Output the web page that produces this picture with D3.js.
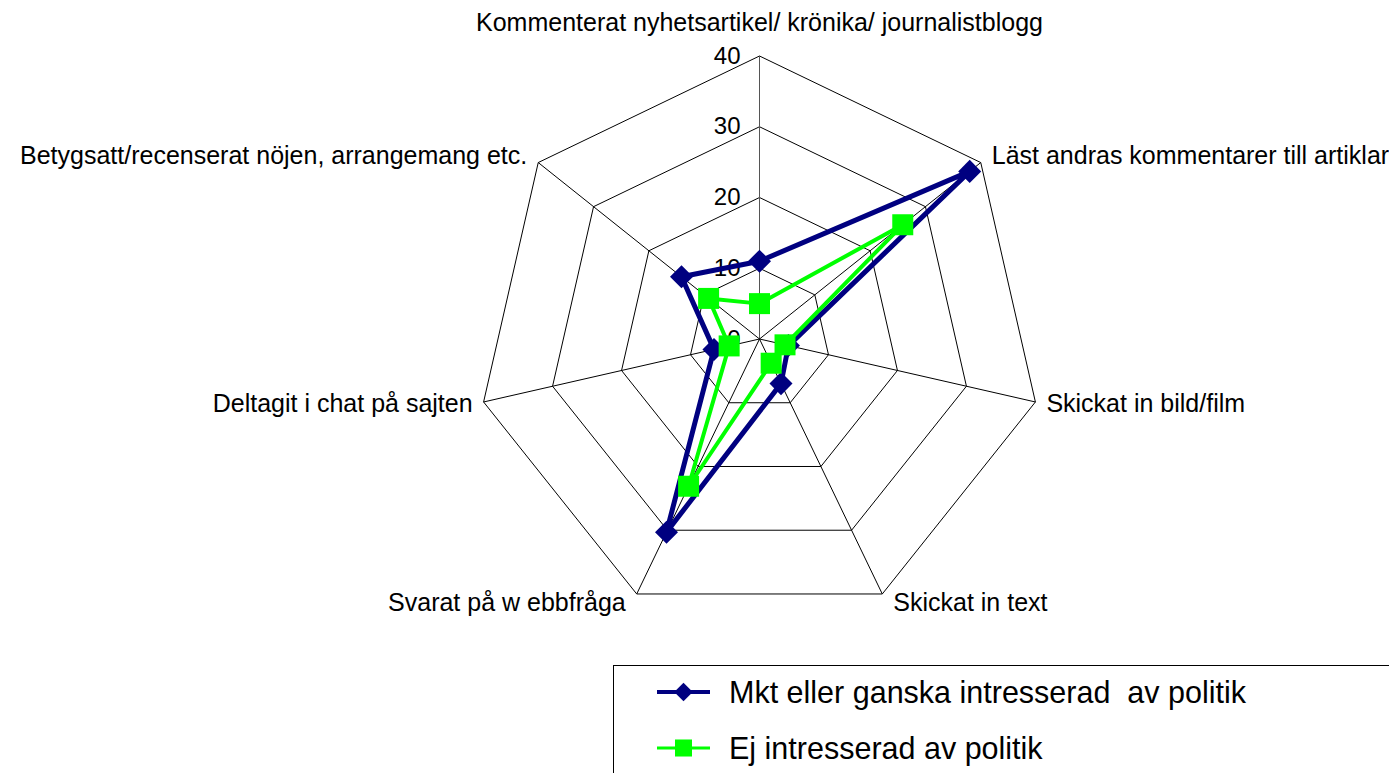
<!DOCTYPE html>
<html>
<head>
<meta charset="utf-8">
<script src="https://cdn.jsdelivr.net/npm/d3@7"></script>
<style>
  body { margin: 0; background: #fff; }
  svg { display: block; font-family: "Liberation Sans", Arial, sans-serif; }
  text { white-space: pre; }
</style>
</head>
<body>
<div id="chart"></div>
<script>
const categories = [
  'Kommenterat nyhetsartikel/ krönika/ journalistblogg',
  'Läst andras kommentarer till artiklar',
  'Skickat in bild/film',
  'Skickat in text',
  'Svarat på w ebbfråga',
  'Deltagit i chat på sajten',
  'Betygsatt/recenserat nöjen, arrangemang etc.'
];
const seriesNames = ['Mkt eller ganska intresserad  av politik', 'Ej intresserad av politik'];
const mktValues = [11, 38, 4.2, 7, 30.3, 6.6, 14.1];
const ejValues = [5, 25.9, 3.7, 3.8, 23.1, 4.4, 9.2];
const tickValues = [0, 10, 20, 30, 40];

const width = 1389, height = 773;
const cx = 759.5, cy = 339;

const svg = d3.select('#chart').append('svg')
  .attr('width', width).attr('height', height);

const r = d3.scaleLinear().domain([0, 40]).range([0, 283]);
const angle = d3.scaleLinear().domain([0, categories.length]).range([0, 2 * Math.PI]);

const g = svg.append('g').attr('transform', `translate(${cx}, ${cy})`);

const px = (i, v) => r(v) * Math.sin(angle(i));
const py = (i, v) => -r(v) * Math.cos(angle(i));

// grid heptagons
const gridLine = d3.lineRadial()
  .angle((d, i) => angle(i)).radius(d => r(d))
  .curve(d3.curveLinearClosed);

g.append('g').selectAll('path').data(tickValues.slice(1)).join('path')
  .attr('d', t => gridLine(categories.map(() => t)))
  .attr('fill', 'none').attr('stroke', '#000').attr('stroke-width', 1);

// spokes
g.append('g').selectAll('line').data(categories).join('line')
  .attr('x1', 0).attr('y1', 0)
  .attr('x2', (d, i) => px(i, 40)).attr('y2', (d, i) => py(i, 40))
  .attr('stroke', (d, i) => i === 0 ? '#555' : '#000').attr('stroke-width', 1);

// tick labels
g.append('g').selectAll('text').data(tickValues).join('text')
  .attr('x', -19).attr('y', t => -r(t) + 7.5)
  .attr('text-anchor', 'end').attr('font-size', 24).attr('fill', '#000')
  .text(t => t);

// category labels
g.append('g').selectAll('text').data(categories).join('text')
  .attr('font-size', 25).attr('fill', '#000')
  .attr('text-anchor', (d, i) => i === 0 ? 'middle' : (Math.sin(angle(i)) > 0 ? 'start' : 'end'))
  .attr('x', (d, i) => {
    if (i === 0) return 0;
    const s = Math.sin(angle(i));
    return px(i, 40) + (s > 0 ? 11 : -11);
  })
  .attr('y', (d, i) => {
    if (i === 0) return py(i, 40) - 25;
    return py(i, 40) + 8 - 10 * Math.cos(angle(i));
  })
  .text(d => d);

// series
const series = [
  { name: seriesNames[0], values: mktValues, color: '#000080', width: 5, marker: 'diamond' },
  { name: seriesNames[1], values: ejValues, color: '#00ff00', width: 4, marker: 'square' }
];

const seriesLine = d3.lineRadial()
  .angle((d, i) => angle(i)).radius(d => r(d))
  .curve(d3.curveLinearClosed);

const markerPath = (m, big) => m === 'diamond'
  ? d3.symbol(d3.symbolSquare, big ? 265 : 170)()
  : d3.symbol(d3.symbolSquare, big ? 441 : 290)();

series.forEach(s => {
  const sg = g.append('g');
  sg.append('path').attr('d', seriesLine(s.values))
    .attr('fill', 'none').attr('stroke', s.color)
    .attr('stroke-width', s.width).attr('stroke-linejoin', 'round');
  sg.selectAll('path.marker').data(s.values).join('path')
    .attr('class', 'marker')
    .attr('d', markerPath(s.marker, true))
    .attr('fill', s.color)
    .attr('transform', (d, i) => `translate(${px(i, d)}, ${py(i, d)})${s.marker === 'diamond' ? ' rotate(45)' : ''}`);
});

// legend
const legend = svg.append('g');
legend.append('rect')
  .attr('x', 613.5).attr('y', 665.5).attr('width', 900).attr('height', 200)
  .attr('fill', '#fff').attr('stroke', '#000').attr('stroke-width', 1);

const legendY = d3.scalePoint().domain(seriesNames).range([692, 748]);

const items = legend.selectAll('g.item').data(series).join('g')
  .attr('class', 'item')
  .attr('transform', d => `translate(0, ${legendY(d.name)})`);

items.append('line')
  .attr('x1', 657).attr('x2', 710).attr('y1', 0).attr('y2', 0)
  .attr('stroke', d => d.color).attr('stroke-width', d => d.width - 1);
items.append('path')
  .attr('d', d => markerPath(d.marker, false))
  .attr('fill', d => d.color)
  .attr('transform', d => `translate(683.5, 0)${d.marker === 'diamond' ? ' rotate(45)' : ''}`);
items.append('text')
  .attr('x', 729).attr('y', 10.5)
  .attr('font-size', 30.5).attr('fill', '#000')
  .text(d => d.name);
</script>
</body>
</html>
